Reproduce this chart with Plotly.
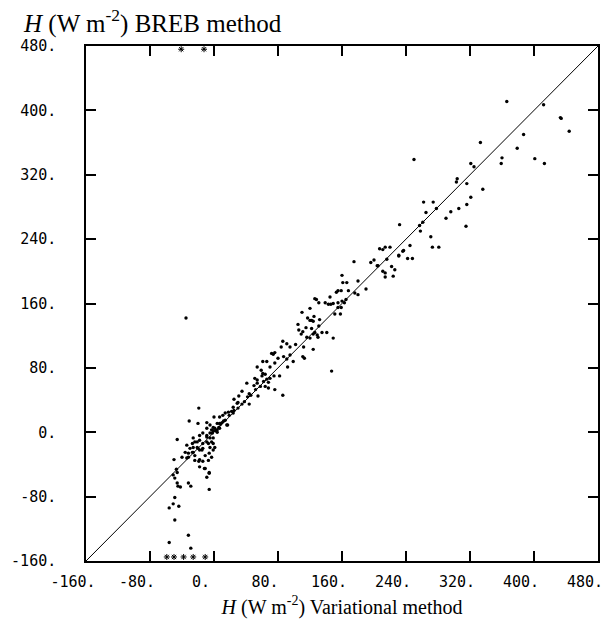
import plotly.graph_objects as go

# ---- data (W m-2) ----
var_x = [366,412,433,434,444,387,333,379,401,413,250,359,360,321,325,304,303,316,336,321,316,306,296,290,315,
         262,274,265,278,257,258,261,232,271,273,281,245,237,231,242,248,207,211,214,220,
         175,196,200,204,205,216,231,236,222,226,211,214,214,224,160,161,166,180,190,155,159,153,168,176,180,
         165,163,160,155,145,149,126,128,131,139,143,146,155,159,151,158,120,110,117,120,122,124,125,132,105,
         115,111,106,109,122,126,124,131,135,141,120,116,130,149,102,124,86,91,84,95,72,74,76,80,87,91,95,
         61,66,70,76,92,99,54,59,111,113,147,61,60,64,82,75,51,54,68,70,50,54,64,68,76,55,86,112,129,
         41,44,31,35,25,30,29,44,24,22,24,18,19,14,11,-19,0,16,10,7,6,-31,-20,-9,-5,-3,-1,1,4,17,-14,-18,-9,
         -5,-1,-3,-7,-26,-24,-27,-34,-30,-21,-18,-14,-1,1,-36,-32,-26,-40,-34,-24,-11,-7,-18,-3,-18,-11,-6,
         -9,-32,-29,-6,-42,
         7,14,-9,4,-9,-5,-1,4,7,-18,-21,-14,-9,-26,-20,-15,-27,-24,-32,-5,-1,-6,
         25,30,35,38,42,46,52,58,62,66,8,12,-2,2,
         -46,-50,-47,-46,-51,-49,-46,-45,-49,-51,-56,-44,-49,-32,-56,-29,-35,-19,-14,-12,-6]
breb_y = [411,407,391,390,374,370,360,353,340,334,339,334,341,334,330,315,311,309,302,292,283,278,274,266,256,
          286,286,273,278,257,250,261,258,243,230,230,232,226,220,216,216,228,227,230,230,
          212,211,214,207,207,215,219,225,206,202,200,198,193,194,195,186,186,188,178,176,176,174,176,173,171,
          165,161,163,161,168,160,166,165,161,161,159,159,155,155,147,147,154,149,142,139,139,138,144,140,134,
          130,125,127,122,129,124,122,132,124,124,117,118,118,117,109,103,113,110,106,106,98,97,99,92,94,91,96,
          88,88,81,86,81,88,81,77,94,92,76,73,70,72,70,70,67,65,62,67,58,61,57,55,53,45,46,106,121,
          61,48,45,51,41,37,36,35,31,26,24,25,21,24,21,30,19,9,12,11,6,14,11,5,9,3,6,5,3,9,-1,-4,-6,
          -7,-7,-12,-14,-7,-12,-14,-16,-20,-19,-22,-20,-14,-19,-25,-26,-25,-31,-32,-35,-29,-35,-34,-31,-43,-45,-50,
          -56,-63,-67,-71,-68,
          19,15,12,11,-4,-1,2,0,5,-10,-12,-14,-12,-19,-20,-22,-25,-29,-31,-19,-22,-26,
          27,30,35,38,44,46,53,57,63,66,10,14,-1,2,
          -9,-34,-46,-50,-53,-57,-63,-67,-81,-89,-94,-92,-109,-128,-137,-144,142,-36,-36,-45,-51]

# off-scale values plotted at the frame edges
low_x = [-59, -50, -38, -26, -11]
low_y = [-155, -155, -155, -155, -155]
high_x = [-41, -12.5]
high_y = [476, 476]

one_to_one = [-160, 480]
tick_vals = [-160, -80, 0, 80, 160, 240, 320, 400, 480]
tick_text = ["-160.", "-80.", "0.", "80.", "160.", "240.", "320.", "400.", "480."]

fig = go.Figure()
fig.add_trace(go.Scatter(x=one_to_one, y=one_to_one, mode="lines",
                         line=dict(color="black", width=1), showlegend=False, hoverinfo="skip"))
fig.add_trace(go.Scatter(x=var_x, y=breb_y, mode="markers",
                         marker=dict(color="black", size=3.4, symbol="circle"), showlegend=False))
fig.add_trace(go.Scatter(x=low_x + high_x, y=low_y + high_y, mode="markers",
                         marker=dict(color="black", size=5, symbol="asterisk-open",
                                     line=dict(color="black", width=1)), showlegend=False))

axis_common = dict(range=[-160, 480], tickvals=tick_vals, ticktext=tick_text, automargin=False,
                   showgrid=False, zeroline=False, showline=True, linecolor="black", linewidth=1.5,
                   mirror="ticks", ticks="inside", ticklen=10, tickwidth=1.5, tickcolor="black",
                   ticklabeloverflow="allow",
                   tickfont=dict(family="DejaVu Sans Mono", size=15, color="black"))

fig.update_xaxes(**axis_common, ticklabelstandoff=6, ticklabelshift=-13,
                 title=dict(text="<i>H</i> (W m<sup>-2</sup>) Variational method",
                            font=dict(family="Liberation Serif", size=20, color="black"), standoff=10))
fig.update_yaxes(**axis_common, ticklabelstandoff=25)

fig.add_annotation(text="<i>H</i> (W m<sup>-2</sup>) BREB method", xref="paper", yref="paper",
                   x=-0.127, y=1.0, xanchor="left", yanchor="middle", yshift=25, showarrow=False,
                   font=dict(family="Liberation Serif", size=25, color="black"))

fig.update_layout(width=612, height=625, plot_bgcolor="white", paper_bgcolor="white",
                  margin=dict(l=78, r=22, t=38, b=72), showlegend=False)

fig.write_html("out.html")
